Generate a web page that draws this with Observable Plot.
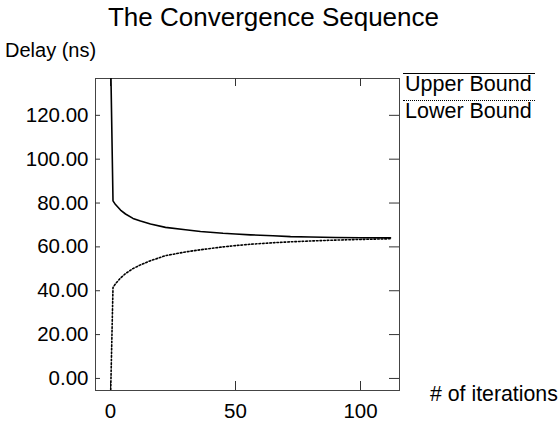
<!DOCTYPE html>
<html><head><meta charset="utf-8">
<script src="https://cdn.jsdelivr.net/npm/d3@7"></script>
<script src="https://cdn.jsdelivr.net/npm/@observablehq/plot@0.6"></script>
<style>
body{margin:0;background:#fff;}
#wrap{position:relative;width:559px;height:421px;font-family:"Liberation Sans",Arial,Helvetica,sans-serif;color:#000;}
#wrap svg{position:absolute;left:0;top:0;}
.t{position:absolute;white-space:nowrap;line-height:1;z-index:2;}
</style></head><body>
<div id="wrap">
<div class="t" style="left:0;width:547px;text-align:center;top:4px;font-size:26px;">The Convergence Sequence</div>
<div class="t" style="left:5px;top:40px;font-size:20px;">Delay (ns)</div>
<div class="t" style="left:430px;top:384px;font-size:21.3px;"># of iterations</div>
<div class="t" style="left:403px;top:73px;width:130px;border-top:1.5px solid #000;font-size:21.5px;padding-left:2px;">Upper Bound</div>
<div class="t" style="left:403px;top:100px;width:130px;border-top:1.5px dotted #000;font-size:21.5px;padding-left:2px;">Lower Bound</div>
</div>
<script>
const iterations = [0, 1, 2, 4, 6, 9, 12, 16, 22, 30, 36, 45, 50, 56, 65, 72, 80, 90, 100, 112];
const upperBound = [150, 81.0, 79.3, 76.8, 75.0, 73.0, 71.8, 70.4, 68.9, 67.8, 67.0, 66.2, 65.9, 65.5, 65.1, 64.7, 64.5, 64.3, 64.2, 64.1];
const lowerBound = [-10, 41.5, 43.2, 45.8, 47.8, 50.1, 51.8, 53.7, 56.0, 57.7, 58.7, 60.0, 60.6, 61.2, 61.9, 62.3, 62.7, 63.1, 63.4, 63.7];
const yTicks = [0, 20, 40, 60, 80, 100, 120];
const xTicks = [0, 50, 100];

const data = iterations.map((x, i) => ({x, upper: upperBound[i], lower: lowerBound[i]}));
const W = 559, H = 421, ML = 95, MR = 160, MT = 78, MB = 31;
const frameW = W - ML - MR, frameH = H - MT - MB;
const font = '"Liberation Sans", Arial, Helvetica, sans-serif';

const chart = Plot.plot({
  width: W, height: H,
  marginLeft: ML, marginRight: MR, marginTop: MT, marginBottom: MB,
  style: {fontFamily: font, fontSize: "20.5px", background: "transparent", color: "#000"},
  x: {domain: [-6, 115.6]},
  y: {domain: [-5.5, 136.8]},
  marks: [
    Plot.frame({stroke: "#444"}),
    Plot.tickY(yTicks, {y: d => d, insetRight: frameW - 5, stroke: "#333"}),
    Plot.tickY(yTicks, {y: d => d, insetLeft: frameW - 10, stroke: "#333"}),
    Plot.tickX(xTicks, {x: d => d, insetBottom: frameH - 8, stroke: "#333"}),
    Plot.tickX(xTicks, {x: d => d, insetTop: frameH - 9, stroke: "#333"}),
    Plot.axisY(yTicks, {anchor: "left", tickSize: 0, tickPadding: 7, tickFormat: d3.format(".2f"), label: null, fill: "#000"}),
    Plot.axisX(xTicks, {anchor: "bottom", tickSize: 0, tickPadding: 13, label: null, fill: "#000"}),
    Plot.line(data, {x: "x", y: "upper", stroke: "#000", strokeWidth: 1.6, clip: true}),
    Plot.line(data, {x: "x", y: "lower", stroke: "#000", strokeWidth: 1.6, strokeDasharray: "1.6,2", clip: true})
  ]
});
document.getElementById("wrap").prepend(chart);
</script>
</body></html>
